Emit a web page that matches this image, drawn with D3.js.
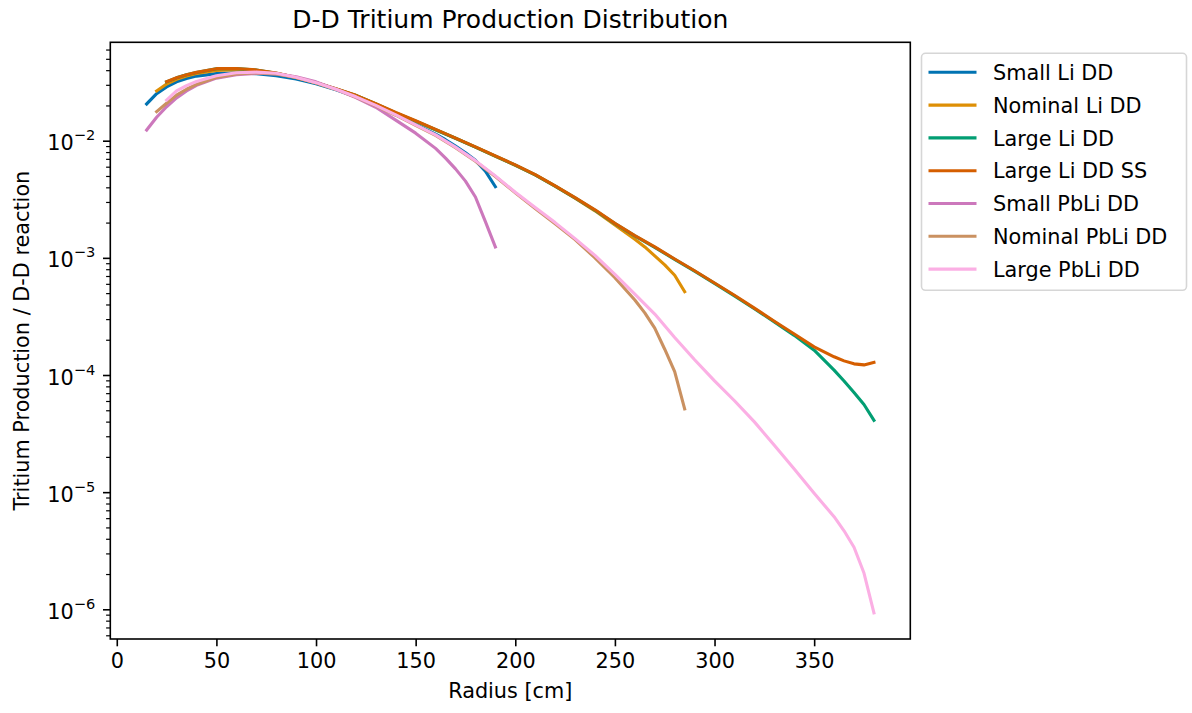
<!DOCTYPE html>
<html>
<head>
<meta charset="utf-8">
<script src="https://cdn.jsdelivr.net/npm/d3@7/dist/d3.min.js"></script>
<style>
body { margin: 0; background: #fff; }
text { font-family: 'DejaVu Sans', sans-serif; fill: #000; }
</style>
</head>
<body>
<div id="chart"></div>
<script>
// radius grids (cm)
var smallR = [15, 20, 25, 30, 35, 40, 50, 60, 70, 80, 90, 100, 110, 120, 130, 140, 150, 160, 165, 170, 175, 180, 185, 190]
var nominalR = [20, 25, 30, 35, 40, 50, 60, 70, 80, 90, 100, 110, 120, 130, 140, 150, 160, 170, 180, 190, 200, 210, 220, 230, 240, 250, 260, 265, 270, 275, 280, 285]
var largeR = [25, 30, 35, 40, 50, 60, 70, 80, 90, 100, 110, 120, 130, 140, 150, 160, 170, 180, 190, 200, 210, 220, 230, 240, 250, 260, 270, 280, 290, 300, 310, 320, 330, 340, 350, 360, 365, 370, 375, 380]

// tritium production per D-D reaction
var smallLi = [0.0206, 0.0252, 0.0288, 0.0318, 0.0340, 0.0356, 0.0374, 0.0380, 0.0373, 0.0358, 0.0336, 0.0306, 0.0272, 0.0237, 0.0200, 0.0166, 0.0138, 0.0114, 0.0102, 0.0090, 0.0079, 0.0068, 0.0055, 0.00405]
var nominalLi = [0.0266, 0.0305, 0.0334, 0.0357, 0.0374, 0.0398, 0.0404, 0.0397, 0.0377, 0.0346, 0.0312, 0.0277, 0.0243, 0.0206, 0.0173, 0.0147, 0.0124, 0.0105, 0.0088, 0.00737, 0.00617, 0.0051, 0.0041, 0.00323, 0.00252, 0.00191, 0.00144, 0.00124, 0.00104, 0.00087, 0.00071, 0.000514]
var largeLi = [0.0318, 0.0344, 0.0365, 0.0382, 0.0411, 0.0412, 0.0401, 0.0377, 0.0346, 0.0312, 0.0277, 0.0243, 0.0206, 0.0173, 0.0147, 0.0124, 0.0105, 0.00882, 0.00738, 0.00618, 0.0051, 0.0041, 0.00325, 0.00255, 0.00196, 0.00154, 0.00123, 0.00097, 0.00077, 0.000605, 0.000474, 0.000368, 0.000284, 0.000218, 0.000163, 0.000110, 0.000089, 0.000071, 0.000056, 0.000041]
var largeLiSS = [0.0319, 0.0345, 0.0366, 0.0383, 0.0412, 0.0413, 0.0402, 0.0378, 0.0347, 0.0313, 0.0278, 0.0244, 0.0207, 0.0174, 0.0148, 0.0125, 0.01052, 0.00885, 0.00741, 0.00621, 0.00513, 0.00412, 0.00327, 0.00257, 0.00197, 0.00155, 0.00124, 0.000977, 0.000776, 0.00061, 0.000479, 0.000372, 0.000288, 0.000224, 0.000174, 0.000143, 0.000132, 0.0001245, 0.000122, 0.000128]
var smallPbLi = [0.01233, 0.01585, 0.0195, 0.0232, 0.0266, 0.0297, 0.0342, 0.0366, 0.0376, 0.0372, 0.0351, 0.0318, 0.0275, 0.0233, 0.0193, 0.0150, 0.0116, 0.0086, 0.0071, 0.00575, 0.00452, 0.00331, 0.00204, 0.00124]
var nominalPbLi = [0.0177, 0.0209, 0.0245, 0.0275, 0.0302, 0.0347, 0.0372, 0.0380, 0.0372, 0.0347, 0.0311, 0.0274, 0.0236, 0.0198, 0.0165, 0.01355, 0.0111, 0.00871, 0.00668, 0.00495, 0.00359, 0.00264, 0.00195, 0.00143, 0.00100, 0.000676, 0.000437, 0.000339, 0.000251, 0.000166, 0.000107, 0.0000513]
var largePbLi = [0.0222, 0.0266, 0.0295, 0.0320, 0.0359, 0.0380, 0.0385, 0.0376, 0.0348, 0.0313, 0.0275, 0.0237, 0.0200, 0.0166, 0.01365, 0.01122, 0.00881, 0.00676, 0.00501, 0.00363, 0.00269, 0.00200, 0.00146, 0.00105, 0.000724, 0.00049, 0.000331, 0.000209, 0.000135, 0.0000891, 0.0000603, 0.0000398, 0.0000251, 0.0000158, 0.00000977, 0.00000617, 0.00000468, 0.00000339, 0.00000204, 0.00000093]

var names = ['Small Li DD', 'Nominal Li DD', 'Large Li DD', 'Large Li DD SS', 'Small PbLi DD', 'Nominal PbLi DD', 'Large PbLi DD']
var colors = ['#0173b2', '#de8f05', '#029e73', '#d55e00', '#cc78bc', '#ca9161', '#fbafe4']
var xTicks = [0, 50, 100, 150, 200, 250, 300, 350]
var yTicks = [1e-2, 1e-3, 1e-4, 1e-5, 1e-6]
var yTickExp = ['\u22122', '\u22123', '\u22124', '\u22125', '\u22126']

var series = [
    { r: smallR, v: smallLi },
    { r: nominalR, v: nominalLi },
    { r: largeR, v: largeLi },
    { r: largeR, v: largeLiSS },
    { r: smallR, v: smallPbLi },
    { r: nominalR, v: nominalPbLi },
    { r: largeR, v: largePbLi }
]

var width = 1192
var height = 713
var plotLeft = 110.3
var plotRight = 910.3
var plotTop = 42.3
var plotBottom = 639

var svg = d3.select('#chart')
    .append('svg')
    .attr('width', width)
    .attr('height', height)

var xScale = d3.scaleLinear()
    .domain([-3.25, 398.25])
    .range([plotLeft, plotRight])

var yScale = d3.scaleLog()
    .domain([Math.pow(10, -6.2535), Math.pow(10, -1.16)])
    .range([plotBottom, plotTop])

// minor log ticks
var minors = []
for (var e = -7; e <= -1; e++) {
    for (var m = 2; m <= 9; m++) {
        var t = m * Math.pow(10, e)
        if (t > yScale.domain()[0] && t < yScale.domain()[1]) minors.push(t)
    }
}

var xAxis = svg.append('g')
    .attr('transform', 'translate(0,' + plotBottom + ')')
    .call(d3.axisBottom(xScale).tickValues(xTicks).tickSize(7.3).tickPadding(7))
xAxis.select('.domain').remove()
xAxis.selectAll('line').attr('stroke', '#000').attr('stroke-width', 1.6)
xAxis.selectAll('text').attr('font-size', 20.8).attr('font-family', 'DejaVu Sans')

var yMinor = svg.append('g')
    .attr('transform', 'translate(' + plotLeft + ',0)')
    .call(d3.axisLeft(yScale).tickValues(minors).tickSize(4.2).tickFormat(''))
yMinor.select('.domain').remove()
yMinor.selectAll('line').attr('stroke', '#000').attr('stroke-width', 1.2)

var yAxis = svg.append('g')
    .attr('transform', 'translate(' + plotLeft + ',0)')
    .call(d3.axisLeft(yScale).tickValues(yTicks).tickSize(7.3).tickFormat(''))
yAxis.select('.domain').remove()
yAxis.selectAll('line').attr('stroke', '#000').attr('stroke-width', 1.6)

var yLabels = svg.append('g')
    .selectAll('text')
    .data(yTicks)
    .enter()
    .append('text')
    .attr('x', plotLeft - 15)
    .attr('y', (d) => yScale(d) + 9.5)
    .attr('text-anchor', 'end')
    .attr('font-size', 20.8)
yLabels.append('tspan').text('10')
yLabels.append('tspan')
    .attr('dy', -10)
    .attr('font-size', 14.6)
    .text((d, i) => yTickExp[i])

// lines
var line = d3.line()
    .x((d) => xScale(d[0]))
    .y((d) => yScale(d[1]))

var plot = svg.append('g')

series.forEach(function (s, i) {
    var pts = s.r.map((r, j) => [r, s.v[j]])
    plot.append('path')
        .attr('d', line(pts))
        .attr('fill', 'none')
        .attr('stroke', colors[i])
        .attr('stroke-width', 3.1)
        .attr('stroke-linejoin', 'round')
        .attr('stroke-linecap', 'square')
})

// frame
svg.append('rect')
    .attr('x', plotLeft)
    .attr('y', plotTop)
    .attr('width', plotRight - plotLeft)
    .attr('height', plotBottom - plotTop)
    .attr('fill', 'none')
    .attr('stroke', '#000')
    .attr('stroke-width', 1.6)

// titles
svg.append('text')
    .attr('x', (plotLeft + plotRight) / 2)
    .attr('y', 28)
    .attr('text-anchor', 'middle')
    .attr('font-size', 25)
    .text('D-D Tritium Production Distribution')

svg.append('text')
    .attr('x', (plotLeft + plotRight) / 2)
    .attr('y', 698)
    .attr('text-anchor', 'middle')
    .attr('font-size', 20.8)
    .text('Radius [cm]')

svg.append('text')
    .attr('transform', 'translate(29,' + ((plotTop + plotBottom) / 2) + ')rotate(-90)')
    .attr('text-anchor', 'middle')
    .attr('font-size', 20.8)
    .text('Tritium Production / D-D reaction')

// legend
var legend = svg.append('g')

legend.append('rect')
    .attr('x', 921.5)
    .attr('y', 53.3)
    .attr('width', 265)
    .attr('height', 237)
    .attr('rx', 4)
    .attr('fill', '#fff')
    .attr('stroke', '#d6d6d6')
    .attr('stroke-width', 1.6)

var rows = legend.selectAll('g.row')
    .data(names)
    .enter()
    .append('g')
    .attr('class', 'row')
    .attr('transform', (d, i) => 'translate(0,' + (72.3 + i * 32.8) + ')')

rows.append('line')
    .attr('x1', 928.5)
    .attr('x2', 976.5)
    .attr('stroke', (d, i) => colors[i])
    .attr('stroke-width', 3.1)

rows.append('text')
    .attr('x', 993)
    .attr('y', 7.6)
    .attr('font-size', 20.8)
    .text((d) => d)
</script>
</body>
</html>
